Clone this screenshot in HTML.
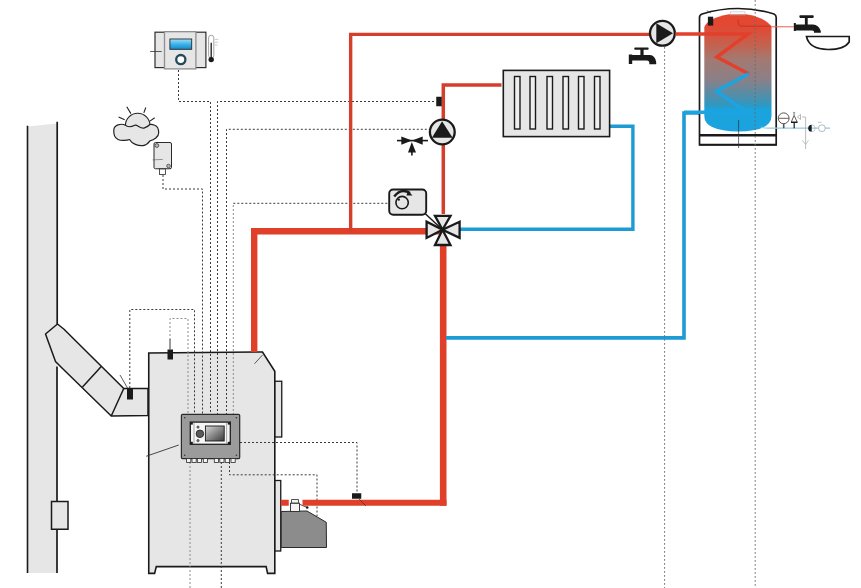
<!DOCTYPE html>
<html><head><meta charset="utf-8">
<style>
html,body{margin:0;padding:0;background:#fff;width:861px;height:588px;overflow:hidden;font-family:"Liberation Sans",sans-serif;}
svg{display:block;}
</style></head><body>
<svg width="861" height="588" viewBox="0 0 861 588">
<defs>
<linearGradient id="tankg" x1="0" y1="0" x2="0" y2="1">
<stop offset="0" stop-color="#e6452e"/>
<stop offset="0.117" stop-color="#e04a35"/>
<stop offset="0.26" stop-color="#c4624f"/>
<stop offset="0.39" stop-color="#a27a72"/>
<stop offset="0.56" stop-color="#8a8088"/>
<stop offset="0.7" stop-color="#4f8fab"/>
<stop offset="0.78" stop-color="#2d99c2"/>
<stop offset="0.805" stop-color="#1aa3dc"/>
<stop offset="1" stop-color="#1aa3de"/>
</linearGradient>
<linearGradient id="dispg" x1="0" y1="0" x2="0" y2="1">
<stop offset="0" stop-color="#9fe0f8"/>
<stop offset="0.5" stop-color="#3fb4e8"/>
<stop offset="1" stop-color="#1288cc"/>
</linearGradient>
<linearGradient id="scrg" x1="0" y1="0" x2="1" y2="1">
<stop offset="0" stop-color="#555"/>
<stop offset="1" stop-color="#ddd"/>
</linearGradient>
</defs>

<!-- ============ CHIMNEY ============ -->
<polygon points="27.5,126.5 57.2,123.5 57.2,573 27.5,573" fill="#e6e6e6"/>
<path d="M27.5 125.7 V573" stroke="#1a1a1a" stroke-width="1.6" fill="none"/>
<path d="M57.2 121.8 V324 M57 366.5 V573" stroke="#1a1a1a" stroke-width="1.7" fill="none"/>
<rect x="51.5" y="501.5" width="16.5" height="27.75" fill="#e6e6e6" stroke="#1a1a1a" stroke-width="1.5"/>

<!-- flue pipe -->
<polygon points="57.5,324 63.75,329 123.75,388.5 148,388.5 148,415.5 111.25,416 62.5,368.5 55.5,361.5 45.5,334" fill="#e6e6e6" stroke="#1a1a1a" stroke-width="1.5" stroke-linejoin="round"/>
<path d="M123.75 388.5 L111.25 416 M101.25 366.5 L82.5 387" stroke="#1a1a1a" stroke-width="1.5" fill="none"/>
<path d="M120 375 L127.5 388" stroke="#333" stroke-width="0.8"/>
<rect x="127" y="388.5" width="6" height="11" fill="#1a1a1a"/>

<!-- ============ BOILER ============ -->
<polygon points="148.75,353 262.5,352 274.8,371.25 274.8,573.4 267.6,573.4 266.1,566.6 156.3,566.6 154.6,573.4 148.75,573.4" fill="#e6e6e6" stroke="#1a1a1a" stroke-width="1.6" stroke-linejoin="miter"/>
<path d="M254.5 363.75 L262.5 355" stroke="#333" stroke-width="0.8"/>
<rect x="275" y="381.25" width="6.75" height="55.75" fill="#e6e6e6" stroke="#1a1a1a" stroke-width="1.3"/>
<rect x="167.5" y="349.5" width="5.5" height="10" fill="#1a1a1a"/>
<path d="M170 339 V349.5" stroke="#222" stroke-width="0.9"/>

<!-- ============ DASHED CONTROL LINES ============ -->
<g fill="none" stroke="#3a3a3a" stroke-width="1" stroke-dasharray="2 2">
<!-- thermostat -->
<path d="M178.5 70 V101.5 H210.5 V415"/>
<!-- to pump sensor at top -->
<path d="M217.5 415 V101.5 H436"/>
<!-- to pump -->
<path d="M226.5 415 V129.3 H429"/>
<!-- weather sensor -->
<path d="M163 175 V189 H202.5 V415"/>
<!-- actuator -->
<path d="M233.3 203.3 H389"/>
<!-- flue sensor -->
<path d="M129.8 388 V309.5 H194.5 V415"/>
<!-- controller to right pipe sensor -->
<path d="M240 442.5 H357 V493"/>
<!-- controller to burner -->
<path d="M229.5 462 V474.8 H317 V516"/>
<!-- below controller -->
<path d="M221.3 462 V588"/>
</g>
<g fill="none" stroke="#8c8c8c" stroke-width="1" stroke-dasharray="2 2">
<path d="M170 340 V318.5 H188 V415"/>
<path d="M233.3 415 V203.3"/>
<path d="M190 462 V588"/>
</g>

<!-- controller -->
<path d="M178.75 445 L146.25 456.25" stroke="#333" stroke-width="0.9"/>
<rect x="181.4" y="414.4" width="58.3" height="44.2" rx="1.2" fill="#9b9b9b" stroke="#2a2a2a" stroke-width="1.2"/>
<g fill="#333"><circle cx="184.7" cy="417.7" r="0.8"/><circle cx="236.4" cy="417.7" r="0.8"/><circle cx="184.7" cy="455.3" r="0.8"/><circle cx="236.4" cy="455.3" r="0.8"/></g>
<rect x="190.3" y="422.1" width="40" height="22.2" fill="#f6f6f6" stroke="#1f1f1f" stroke-width="1.3"/>
<path d="M194 423 V443.5 M226.6 423 V443.5" stroke="#777" stroke-width="0.6"/>
<g fill="#1a1a1a"><rect x="190.5" y="422.3" width="2.3" height="2.3"/><rect x="227.8" y="422.3" width="2.3" height="2.3"/><rect x="190.5" y="441.8" width="2.3" height="2.3"/><rect x="227.8" y="441.8" width="2.3" height="2.3"/></g>
<linearGradient id="scrg2" x1="0" y1="0" x2="1" y2="1"><stop offset="0" stop-color="#d8d8d8"/><stop offset="1" stop-color="#3a3a3a"/></linearGradient>
<rect x="205.4" y="426" width="18.8" height="15" fill="url(#scrg2)" stroke="#1a1a1a" stroke-width="0.9"/>
<circle cx="199.9" cy="433.8" r="3.8" fill="#5a5a5a" stroke="#1a1a1a" stroke-width="0.8"/>
<circle cx="198" cy="427.1" r="1.2" fill="#777" stroke="#222" stroke-width="0.5"/>
<circle cx="198" cy="440.6" r="1.2" fill="#777" stroke="#222" stroke-width="0.5"/>
<g fill="#f4f4f4" stroke="#2a2a2a" stroke-width="0.8">
<rect x="186.6" y="458.6" width="4.2" height="3.9"/><rect x="192" y="458.6" width="4.2" height="3.9"/><rect x="197.3" y="458.6" width="4.2" height="3.9"/><rect x="203.3" y="458.6" width="4.2" height="3.9"/>
<rect x="214.3" y="458.6" width="4.2" height="3.9"/><rect x="219.8" y="458.6" width="4.2" height="3.9"/><rect x="225.2" y="458.6" width="4.2" height="3.9"/><rect x="231" y="458.6" width="4.2" height="3.9"/>
</g>

<!-- burner -->
<rect x="275" y="480.5" width="5.75" height="70.5" fill="#e6e6e6" stroke="#1a1a1a" stroke-width="1.3"/>
<polygon points="281.25,511.5 307,511 326.25,522.25 326.5,547.5 281.25,547.5" fill="#8c8c8c" stroke="#2a2a2a" stroke-width="1"/>
<rect x="290.5" y="503.2" width="9" height="8.3" fill="#f4f4f4" stroke="#2a2a2a" stroke-width="0.9"/>
<rect x="291.6" y="499.6" width="6.8" height="3.4" fill="#f4f4f4" stroke="#2a2a2a" stroke-width="0.8"/>
<path d="M299.6 504.3 L307 507.4" stroke="#222" stroke-width="0.8"/>
<circle cx="307.2" cy="507.5" r="1.3" fill="#1a1a1a"/>

<!-- ============ PIPES ============ -->
<g fill="none" stroke-linejoin="miter">
<!-- thick red boiler loop -->
<path d="M254.2 352 V231.3 H441" stroke="#e0402a" stroke-width="6.4"/>
<path d="M280.75 502.75 H288.75 M302.5 502.75 H446.5" stroke="#e0402a" stroke-width="5.9"/>
<path d="M443.2 505.7 V246" stroke="#e0402a" stroke-width="6.6"/>
<!-- thin red -->
<path d="M350.65 231.5 V34.4 H649" stroke="#d63e2c" stroke-width="3.4"/>
<path d="M443.3 214 V85 H501.5" stroke="#d63e2c" stroke-width="3.5"/>
<!-- blue -->
<path d="M460 229.2 H632.9 V126.2 H609.5" stroke="#1c9bd4" stroke-width="3.4"/>
<path d="M446 337.9 H684 V113 H748.5 L716 92 L748.5 74.25" stroke="#1c9bd4" stroke-width="3.6"/>
</g>

<!-- sensors on pipes -->
<rect x="352" y="493.25" width="9.25" height="5.5" fill="#1a1a1a"/>
<path d="M359 499 L366 506" stroke="#333" stroke-width="0.7"/>
<rect x="436.25" y="96.75" width="5.5" height="9.5" fill="#1a1a1a"/>

<!-- ============ TOP LEFT DEVICES ============ -->
<!-- room thermostat -->
<rect x="155" y="32.2" width="50.9" height="35.4" fill="#e6e6e6" stroke="#2e2e2e" stroke-width="1.2"/>
<rect x="164.5" y="31.7" width="31.4" height="37.2" fill="#e6e6e6" stroke="#8f8f8f" stroke-width="1.3"/>
<path d="M150.1 51.5 H161.7" stroke="#333" stroke-width="0.8"/>
<rect x="169.9" y="39" width="21.8" height="10.3" fill="url(#dispg)" stroke="#2a2a2a" stroke-width="0.9"/>
<circle cx="180.8" cy="59.6" r="4.6" fill="#fff" stroke="#24485c" stroke-width="2.3"/>
<!-- thermometer -->
<rect x="208.6" y="35.2" width="5.2" height="23" rx="2.6" fill="#fff" stroke="#666" stroke-width="0.6"/>
<path d="M211.2 42.7 V58" stroke="#1a1a1a" stroke-width="1.3"/>
<circle cx="211.2" cy="59.6" r="2.7" fill="#1a1a1a"/>
<path d="M214.7 39.4 H218.4 M214.7 42.2 H218 M214.7 45 H217.6" stroke="#aaa" stroke-width="0.6"/>

<!-- weather: sun + cloud -->
<g stroke="#222" stroke-width="1.1" fill="none">
<path d="M126.8 106.8 L130.9 113.6 M145.8 107.5 L143.8 112.9 M118.6 117 L124.7 119.7 M154.7 117.7 L149.9 121.1"/>
</g>
<circle cx="137.7" cy="125.5" r="12.3" fill="#e6e6e6" stroke="#222" stroke-width="1.1"/>
<path d="M125.4 125.2 C121 123 114 125 113.8 130 C113.5 134 115 138 118 139.5 C121 141 127 140.5 129.5 139.5 C132 144 138 146 143.1 145.6 C147 145 149 142 149.9 140.8 C154 140 158.7 137 158.7 132.7 C158.7 129 157 126 154.7 125.2 C152.5 124.3 151 124.2 149.9 124.5 C148.5 126 147 127 144.5 127.9 C140.4 129.3 137.7 124.5 134.9 125.2 C132.2 126.5 128.1 127.9 125.4 125.2 Z" fill="#e6e6e6" stroke="#222" stroke-width="1.2" stroke-linejoin="round"/>
<!-- outdoor sensor -->
<rect x="154" y="142.5" width="17.5" height="26.25" rx="1.5" fill="#e6e6e6" stroke="#2a2a2a" stroke-width="1"/>
<rect x="159.5" y="169" width="6" height="5.5" fill="#fff" stroke="#2a2a2a" stroke-width="0.8"/>
<circle cx="156.8" cy="145.5" r="1.9" fill="#bbb" stroke="#333" stroke-width="0.8"/>
<path d="M152.6 159.9 L162.8 159.4" stroke="#555" stroke-width="0.6"/>
<circle cx="168.5" cy="166" r="1.8" fill="#bbb" stroke="#333" stroke-width="0.7"/>

<!-- ============ RADIATOR ============ -->
<rect x="503.3" y="70.4" width="106.3" height="66.2" fill="#e6e6e6" stroke="#1a1a1a" stroke-width="1.6"/>
<g fill="#efefef" stroke="#1a1a1a" stroke-width="1.4">
<rect x="514.5" y="76.5" width="5.5" height="52.5"/>
<rect x="530" y="76.5" width="5.5" height="52.5"/>
<rect x="547" y="76.5" width="5.5" height="52.5"/>
<rect x="563" y="76.5" width="5.5" height="52.5"/>
<rect x="578.5" y="76.5" width="5.5" height="52.5"/>
<rect x="594.5" y="76.5" width="5.5" height="52.5"/>
</g>

<!-- ============ PUMPS ============ -->
<circle cx="442.3" cy="132" r="12.4" fill="#e6e6e6" stroke="#1a1a1a" stroke-width="2.3"/>
<polygon points="442.1,121.3 431.9,137.7 452.6,137.7" fill="#1a1a1a"/>
<circle cx="662.4" cy="33.3" r="12.4" fill="#e6e6e6" stroke="#1a1a1a" stroke-width="2.3"/>
<polygon points="656.3,23.3 673,33.3 656.3,43.3" fill="#1a1a1a"/>

<!-- check valve -->
<g fill="#1a1a1a">
<path d="M397 140.6 H428" stroke="#1a1a1a" stroke-width="1.6"/>
<polygon points="401.3,136.6 401.3,144.8 412,140.6"/>
<polygon points="422.7,136.6 422.7,144.8 412,140.6"/>
<polygon points="411.8,142 408,152.5 416,152.5"/>
<path d="M411.9 151 V155.5" stroke="#1a1a1a" stroke-width="1.6"/>
</g>

<!-- actuator + mixing valve -->
<path d="M424.5 213 L442.5 229.7" stroke="#1a1a1a" stroke-width="1.5"/>
<rect x="389.2" y="189.5" width="37" height="25.3" rx="4" fill="#e6e6e6" stroke="#1a1a1a" stroke-width="1.9"/>
<circle cx="402.1" cy="202.6" r="6.2" fill="none" stroke="#1a1a1a" stroke-width="1.6"/>
<path d="M394.2 196.5 Q401 187.5 410 193" fill="none" stroke="#1a1a1a" stroke-width="2.4"/>
<polygon points="408,190.5 412.5,195.5 406.5,195.5" fill="#1a1a1a"/>
<circle cx="398.8" cy="199.6" r="1.2" fill="#1a1a1a"/>
<g fill="#e6e6e6" stroke="#1a1a1a" stroke-width="2.3" stroke-linejoin="miter">
<polygon points="442.5,229.7 426.6,221.7 426.6,237.9"/>
<polygon points="442.5,229.7 459.6,221.7 459.6,237.9"/>
<polygon points="442.5,229.7 435,215.8 450.5,215.8"/>
<polygon points="442.5,229.7 435,245 450.5,245"/>
</g>

<!-- ============ TAPS ============ -->
<g fill="#1a1a1a">
<rect x="634.3" y="47.4" width="14.3" height="2.4" rx="0.8"/>
<rect x="640.4" y="49" width="3.2" height="7"/>
<path d="M628.8 54.4 H632.2 V55.1 H650 Q655 55.5 656.2 62 V64.2 H649.3 V62.5 Q649 60.5 647 60.5 H632.2 V64 H628.8 Z"/>
</g>
<g fill="#1a1a1a">
<rect x="799.4" y="15.2" width="14.3" height="2.7" rx="0.8"/>
<rect x="804.9" y="17" width="2.8" height="8"/>
<path d="M793.8 23 H795.8 V24.5 H813 Q818.5 24.5 820.8 31 V32.7 H814 V31.5 Q813.5 30.6 812 30.6 H795.8 V31.1 H793.8 Z"/>
</g>
<path d="M806.5 36.5 H849.2 V42 C846 47 838 49.5 828 49.5 C815 49.5 808 44 806.5 36.5 Z" fill="#fff" stroke="#1a1a1a" stroke-width="1.7" stroke-linejoin="miter"/>

<!-- ============ TANK ============ -->
<path d="M699.5 145 V17.5 Q699.5 15 702 14 Q738 3 774 14 Q776.2 15 776.2 17.5 V145 Z" fill="#fff" stroke="#1a1a1a" stroke-width="1.7"/>
<path d="M704.3 27 Q708 18 729 14.3 H746 Q767 18 771.5 27 V116 Q771.5 131 738 131.5 Q704.3 131 704.3 116 Z" fill="url(#tankg)"/>
<rect x="730.5" y="11.9" width="14.5" height="3" fill="none" stroke="#bbb" stroke-width="0.6"/>
<path d="M699.5 135.3 H776.2" stroke="#1a1a1a" stroke-width="2.4"/>
<path d="M699.5 144.6 H776.2" stroke="#1a1a1a" stroke-width="1.6"/>
<rect x="707.9" y="16.7" width="5.3" height="8.9" fill="#1a1a1a"/>
<path d="M706.7 10.5 L710.8 13" stroke="#333" stroke-width="0.6"/>
<!-- coil -->
<path d="M675.5 33.9 H748 L716.8 57.1 L748.6 73.8" fill="none" stroke="#e2402b" stroke-width="3.5" stroke-linejoin="miter"/>
<path d="M748.6 73.8 L716.4 91.4 L747.8 112.3 H684" fill="none" stroke="#1ca4e2" stroke-width="3.5"/>
<!-- hot water out -->
<path d="M738.2 19.5 V22 Q738.2 26.2 743 26.2 H771" fill="none" stroke="#d23a28" stroke-width="1.6"/>
<path d="M771 26.8 H794" fill="none" stroke="#e8604f" stroke-width="1"/>
<path d="M738.6 120 V148" stroke="#333" stroke-width="0.7"/>
<!-- cold in -->
<path d="M761 127 Q764 128.2 768 128.2 H830" fill="none" stroke="#8ecbe2" stroke-width="1.2"/>
<path d="M802 117 H805.6 V149" fill="none" stroke="#b5b5b5" stroke-width="0.9"/>
<path d="M802.3 140.2 L805.6 144.5 L808.5 140.2" fill="none" stroke="#b5b5b5" stroke-width="0.8"/>
<circle cx="783.7" cy="118.3" r="5.4" fill="#fff" stroke="#444" stroke-width="0.9"/>
<path d="M778.5 118.3 H789" stroke="#6a4a3a" stroke-width="0.9"/>
<path d="M783.7 123.7 V128.2" stroke="#555" stroke-width="1.6"/>
<polygon points="794.1,115.4 791.3,122 797.2,122" fill="#fff" stroke="#333" stroke-width="0.8"/>
<path d="M791 122.4 H797.5" stroke="#1a1a1a" stroke-width="1.2"/>
<path d="M794.2 122.4 V128.2" stroke="#1a1a1a" stroke-width="1.2"/>
<path d="M794.1 111.8 V115 M793 112.5 H795.2 M793 114 H795.2" stroke="#777" stroke-width="0.6"/>
<polygon points="797.4,117 800.5,114.4 800.5,119.5" fill="#fff" stroke="#888" stroke-width="0.6"/>
<path d="M811.7 124.8 A3.5 3.5 0 0 0 811.7 131.8 Z" fill="#1a1a1a"/>
<path d="M811.7 124.8 A3.5 3.5 0 0 1 811.7 131.8" fill="none" stroke="#aaa" stroke-width="0.6"/>
<circle cx="821.9" cy="128.2" r="3.4" fill="#fff" stroke="#999" stroke-width="0.7"/>
<path d="M817.9 122.3 H821.5" stroke="#999" stroke-width="0.6"/>

<!-- dashed verticals right -->
<g fill="none" stroke="#6a6a6a" stroke-width="0.9" stroke-dasharray="1.8 2.2">
<path d="M664.6 47 V588"/>
<path d="M755.2 0 V588"/>
</g>

</svg>
</body></html>
